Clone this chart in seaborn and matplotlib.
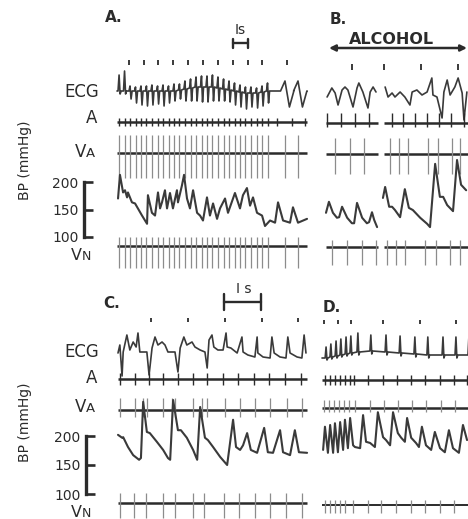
import numpy as np
import matplotlib
matplotlib.use("Agg")
import matplotlib.pyplot as plt
import seaborn as sns

sns.set_theme(style="white")
plt.rcParams["font.family"] = ["DejaVu Sans"]

W, H = 468, 519
INK = "#2b2b2b"
TRACE = "#3a3a3a"
SPIKE = "#8c8c8c"
ECG_PX_PER_MV = 10.0

# ------------------------------------------------------------------ data
# Panel A: timing marks (s), ventricular beats (s) and ECG amplitudes (mV)
A_MARKS = [0.81, 1.80, 2.79, 3.78, 4.80, 5.81, 6.82, 7.84, 8.85, 9.80, 11.49]
A_BEATS = [0.14, 0.51, 0.88, 1.25, 1.62, 1.99, 2.36, 2.74, 3.11, 3.48, 3.85, 4.22,
           4.59, 4.97, 5.34, 5.71, 6.08, 6.45, 6.82, 7.20, 7.57, 7.94, 8.31, 8.68,
           9.05, 9.43, 9.80, 10.17]
A_ECG_R = [1.6, 2.0, 0.5, 0.4, 0.5, 0.5, 0.6, 0.5, 0.6, 0.5, 0.7, 0.6, 0.8, 0.9,
           1.0, 1.1, 1.1, 1.2, 1.1, 1.0, 0.9, 0.8, 0.7, 0.6, 0.6, 0.5, 0.6, 0.8]
A_ECG_S = [0.3, 0.3, 0.8, 1.2, 1.4, 1.5, 1.4, 1.3, 1.5, 1.2, 1.0, 0.9, 1.2, 1.3,
           1.4, 1.5, 1.5, 1.4, 1.3, 1.2, 1.2, 1.4, 1.5, 1.6, 1.4, 1.5, 1.4, 1.2]
A_ECG_BASE = [0.0, 0.0, 0.0, 0.0, 0.0, 0.0, 0.0, 0.0, 0.0, 0.0, 0.0, 0.1, 0.2, 0.3,
              0.4, 0.4, 0.4, 0.4, 0.3, 0.2, 0.1, 0.0, -0.1, -0.2, -0.2, -0.2, -0.1, 0.0]
A_SLOW_BEATS = [11.35, 12.23]
A_SLOW_R = [1.0, 1.0]
A_SLOW_S = [1.6, 1.6]
A_ATRIAL = [0.14, 0.51, 0.88, 1.25, 1.62, 1.99, 2.36, 2.74, 3.11, 3.48, 3.85, 4.22,
            4.59, 4.97, 5.34, 5.71, 6.08, 6.45, 6.82, 7.20, 7.57, 7.94, 8.31, 8.68,
            9.05, 9.43, 9.80, 10.17, 10.81, 11.82, 12.70]
A_BP_T = [0.07, 0.20, 0.41, 0.54, 0.68, 0.74, 1.01, 1.22, 1.69, 2.03, 2.09, 2.36,
          2.57, 2.77, 2.91, 3.04, 3.24, 3.38, 3.58, 3.78, 4.05, 4.12, 4.39, 4.53,
          4.73, 4.93, 5.14, 5.41, 5.61, 5.81, 6.08, 6.28, 6.49, 6.76, 6.96, 7.30,
          7.50, 7.97, 8.31, 8.51, 8.78, 8.99, 9.19, 9.46, 9.80, 10.00, 10.34, 10.68,
          10.88, 11.22, 11.69, 11.89, 12.23, 12.84]
A_BP = [170, 213, 181, 185, 172, 181, 163, 161, 139, 124, 176, 144,
        139, 181, 152, 163, 185, 152, 180, 152, 185, 163, 194, 213,
        170, 152, 185, 144, 139, 130, 172, 139, 161, 133, 152, 170,
        144, 180, 152, 176, 189, 157, 172, 144, 139, 120, 130, 126,
        163, 130, 126, 154, 126, 133]

# Panel B (alcohol), two strips
B_MARKS = [0.71, 1.59, 2.60, 3.62]
B1_ECG_T = [0.03, 0.16, 0.25, 0.33, 0.44, 0.52, 0.60, 0.74, 0.85, 0.90, 1.01, 1.15,
            1.21, 1.29, 1.37]
B1_ECG = [-0.2, 0.7, 0.2, -1.0, 0.5, 0.8, 0.5, -1.2, 0.7, 1.2, 0.3, -1.3, 0.3, 0.8, 0.3]
B2_ECG_T = [1.62, 1.70, 1.81, 1.89, 2.03, 2.16, 2.30, 2.36, 2.49, 2.63, 2.77, 2.90,
            2.93, 3.04, 3.18, 3.23, 3.32, 3.40, 3.53, 3.62, 3.73, 3.78, 3.86]
B2_ECG = [0.8, -0.2, 0.2, -0.2, 0.3, -0.2, -1.0, 0.3, 0.5, 0.0, 0.3, 1.7,
          0.0, -0.2, -2.3, 0.3, 1.5, 0.0, 0.8, 1.7, 0.2, -2.5, 0.3]
B_ATRIAL = [0.03, 0.41, 0.79, 1.18, 1.81, 2.11, 2.44, 2.77, 3.10, 3.42, 3.78]
B_VA = [0.25, 0.66, 1.04, 1.75, 2.00, 2.25, 2.79, 3.07, 3.45, 3.67]
B_VN = [0.16, 0.58, 0.99, 1.37, 1.67, 1.92, 2.16, 2.71, 3.01, 3.40, 3.67]
B1_BP_T = [0.00, 0.08, 0.19, 0.30, 0.36, 0.44, 0.58, 0.71, 0.77, 0.85, 0.99, 1.12,
           1.18, 1.26, 1.32, 1.40]
B1_BP = [144, 164, 144, 135, 136, 155, 135, 125, 125, 162, 135, 125, 127, 145, 131, 118]
B2_BP_T = [1.56, 1.62, 1.73, 1.81, 1.89, 2.03, 2.16, 2.27, 2.38, 2.58, 2.77, 2.85,
           2.99, 3.12, 3.21, 3.32, 3.48, 3.59, 3.70, 3.84]
B2_BP = [171, 191, 155, 155, 149, 136, 187, 153, 149, 135, 124, 118,
         233, 173, 173, 158, 147, 240, 195, 185]

# Panel C
C_MARKS = [0.89, 1.89, 2.89, 3.89, 4.86]
C_ECG_T = [0.00, 0.05, 0.11, 0.14, 0.24, 0.32, 0.41, 0.49, 0.54, 0.59, 0.78, 0.84,
           0.92, 1.00, 1.08, 1.19, 1.27, 1.35, 1.54, 1.62, 1.68, 1.78, 1.86, 2.00,
           2.08, 2.22, 2.35, 2.41, 2.46, 2.54, 2.59, 2.70, 2.84, 2.92, 2.95, 3.05,
           3.22, 3.35, 3.38, 3.51, 3.70, 3.76, 3.78, 3.92, 4.11, 4.16, 4.22, 4.38,
           4.54, 4.59, 4.65, 4.84, 4.97, 5.03, 5.08]
C_ECG = [-0.1, 0.7, -2.4, 0.0, 1.7, 0.2, 1.0, 0.5, 1.9, 0.0, 0.0, -2.3,
         0.4, 1.5, 0.7, 1.0, 0.7, 0.0, 0.0, -2.0, 0.4, 1.5, 0.7, 1.0,
         0.5, 0.2, 0.0, -1.6, 1.2, 1.7, 0.5, 0.2, 0.2, 1.9, 0.5, 0.4,
         -0.1, 1.5, 0.0, -0.3, -0.5, 1.5, -0.1, -0.5, -0.6, 1.5, -0.1, -0.5,
         -0.6, 1.5, -0.1, -0.5, -0.6, 1.7, -0.1]
C_ATRIAL = [0.05, 0.46, 0.84, 1.22, 1.62, 2.03, 2.41, 2.84, 3.24, 3.68, 4.08, 4.51, 4.95]
C_VA = [0.05, 0.46, 0.68, 0.78, 1.22, 1.46, 1.54, 2.03, 2.27, 2.41, 2.89, 3.30,
        3.70, 4.11, 4.57, 4.97]
C_VN = [0.05, 0.43, 0.76, 1.22, 1.54, 2.03, 2.32, 2.86, 3.27, 3.70, 4.11, 4.54, 4.97]
C_BP_T = [0.00, 0.11, 0.14, 0.27, 0.41, 0.57, 0.62, 0.68, 0.78, 0.86, 1.05, 1.22,
          1.35, 1.41, 1.49, 1.62, 1.70, 1.86, 2.03, 2.14, 2.22, 2.35, 2.43, 2.57,
          2.76, 2.95, 3.11, 3.19, 3.30, 3.38, 3.49, 3.59, 3.76, 3.95, 4.05, 4.19,
          4.38, 4.46, 4.65, 4.78, 4.89, 5.11]
C_BP = [202, 197, 198, 181, 167, 159, 162, 259, 207, 205, 190, 176,
        162, 159, 262, 210, 210, 197, 176, 159, 250, 197, 193, 181,
        164, 150, 228, 181, 176, 184, 205, 176, 171, 214, 172, 171,
        210, 172, 167, 210, 172, 171]

# Panel D
D_MARKS = [0.05, 0.43, 0.78, 1.65, 2.65, 3.62]
D_BEATS = [0.11, 0.24, 0.38, 0.51, 0.65, 0.78, 0.97, 1.32, 1.73, 2.11, 2.51, 2.86,
           3.27, 3.62, 3.97]
D_ECG_R = [1.1, 1.3, 1.5, 1.6, 1.7, 1.7, 1.9, 1.6, 1.7, 1.7, 1.7, 1.8, 1.8, 1.8, 1.8]
D_ECG_S = [0.2, 0.2, 0.2, 0.2, 0.2, 0.2, 0.3, 0.3, 0.3, 0.3, 0.3, 0.3, 0.3, 0.3, 0.3]
D_ECG_BASE = [-0.5, -0.4, -0.3, -0.2, -0.1, 0.0, 0.1, 0.2, 0.1, 0.0, -0.1, -0.2,
              -0.2, -0.2, -0.2]
D_ATRIAL = [0.08, 0.22, 0.35, 0.49, 0.62, 0.76, 0.86, 1.24, 1.65, 2.03, 2.41, 2.78,
            3.19, 3.57, 3.92]
D_VA = [0.05, 0.19, 0.32, 0.46, 0.59, 0.73, 0.89, 1.30, 1.68, 2.05, 2.43, 2.81,
        3.22, 3.59]
D_VN = [0.08, 0.22, 0.35, 0.49, 0.62, 0.84, 1.24, 1.59, 2.00, 2.41, 2.78, 3.19, 3.57]
D_BP_T = [0.03, 0.08, 0.16, 0.22, 0.30, 0.35, 0.43, 0.49, 0.57, 0.62, 0.70, 0.76,
          0.84, 0.89, 1.03, 1.11, 1.19, 1.30, 1.43, 1.51, 1.65, 1.73, 1.84, 1.92,
          2.05, 2.14, 2.24, 2.30, 2.41, 2.54, 2.62, 2.70, 2.81, 2.95, 3.05, 3.19,
          3.32, 3.43, 3.54, 3.70, 3.81, 3.92]
D_BP = [176, 216, 171, 219, 171, 222, 172, 224, 176, 228, 179, 231,
        184, 181, 179, 236, 190, 188, 181, 241, 198, 193, 184, 241,
        205, 197, 190, 231, 197, 188, 181, 216, 184, 176, 207, 179,
        172, 210, 179, 171, 219, 193]

BP_TICKS = [100, 150, 200]

# ------------------------------------------------------------------ layout
fig = plt.figure(figsize=(W / 100, H / 100), dpi=100)
fig.patch.set_facecolor("white")


class Panel:
    """One recording strip: x in seconds, y in mmHg-equivalent units."""

    def __init__(self, left, right, top, bottom, t0_px, px_per_s, bp100_px, px_per_mmhg):
        self.t0, self.pps, self.ref, self.ppm = t0_px, px_per_s, bp100_px, px_per_mmhg
        self.ax = fig.add_axes([left / W, 1 - bottom / H, (right - left) / W, (bottom - top) / H])
        self.ax.set_xlim(self.t(left), self.t(right))
        self.ax.set_ylim(self.y(bottom), self.y(top))
        self.ax.patch.set_alpha(0)
        for sp in self.ax.spines.values():
            sp.set_visible(False)
        self.ax.set_xticks([])
        self.ax.set_yticks([])
        self.ax.grid(False)

    def t(self, px):
        return (px - self.t0) / self.pps

    def y(self, px):
        return 100 + (self.ref - px) / self.ppm

    def h(self, px):
        return px / self.ppm


def trace(p, t, v, lw=1.5, color=TRACE):
    sns.lineplot(x=np.asarray(t, float), y=np.asarray(v, float), ax=p.ax, color=color,
                 linewidth=lw, estimator=None, sort=False, legend=False)


def ecg(p, row_px, t, mv, lw=1.2):
    v = p.y(row_px) + p.h(np.asarray(mv, float) * ECG_PX_PER_MV)
    trace(p, t, v, lw=lw)


def ecg_beats(t, r, s, base, w):
    xs, ys = [], []
    for ti, ri, si, bi in zip(t, r, s, base):
        xs += [ti - w, ti, ti + w, ti + 2 * w]
        ys += [bi, bi + ri, bi - si, bi]
    return xs, ys


def spikes(p, times, row_px, up_px, down_px, color=SPIKE, lw=0.9):
    p.ax.vlines(times, p.y(row_px) - p.h(down_px), p.y(row_px) + p.h(up_px),
                colors=color, linewidth=lw)


def baseline(p, t0, t1, row_px, lw=1.8):
    p.ax.hlines(p.y(row_px), t0, t1, colors=INK, linewidth=lw)


def marks(p, times, row_px, half_px=2.5):
    p.ax.vlines(times, p.y(row_px) - p.h(half_px), p.y(row_px) + p.h(half_px),
                colors=INK, linewidth=1.3)


def bp_scale(p):
    ax = p.ax
    ax.spines["left"].set_visible(True)
    ax.spines["left"].set_bounds(100, 200)
    ax.spines["left"].set_linewidth(2.4)
    ax.spines["left"].set_color(INK)
    ax.set_yticks(BP_TICKS)
    ax.set_yticklabels([str(v) for v in BP_TICKS])
    ax.tick_params(axis="y", left=True, direction="in", length=6.5, width=1.9,
                   colors=INK, labelsize=10, pad=4)


def scale_bar(p, t_start, y_px, cap_px):
    ax = p.ax
    yb = p.y(y_px)
    ax.plot([t_start, t_start + 1.0], [yb, yb], color=INK, lw=1.7, clip_on=False)
    for tt in (t_start, t_start + 1.0):
        ax.plot([tt, tt], [yb - p.h(cap_px), yb + p.h(cap_px)], color=INK, lw=1.7,
                clip_on=False)


def ftext(x, y, s, **kw):
    kw.setdefault("color", INK)
    fig.text(x / W, 1 - y / H, s, **kw)


# ------------------------------------------------------------------ panel A
pA = Panel(84, 312, 20, 280, 117, 14.8, 237, 0.55)
marks(pA, A_MARKS, 62)
xs, ys = ecg_beats(A_BEATS, A_ECG_R, A_ECG_S, A_ECG_BASE, 0.07)
xs2, ys2 = ecg_beats(A_SLOW_BEATS, A_SLOW_R, A_SLOW_S, [0.0, 0.0], 0.3)
ecg(pA, 91, [0.0] + xs + xs2 + [12.85], [0.0] + ys + ys2 + [0.0])
baseline(pA, 0.0, 12.85, 122)
spikes(pA, A_ATRIAL, 122, 4, 4, color=INK, lw=1.0)
baseline(pA, 0.0, 12.85, 153)
spikes(pA, A_BEATS + A_SLOW_BEATS, 153, 18, 25)
trace(pA, A_BP_T, A_BP)
baseline(pA, 0.0, 12.85, 246)
spikes(pA, A_BEATS + A_SLOW_BEATS, 246, 9, 22)
bp_scale(pA)
scale_bar(pA, pA.t(233), 43, 4.5)

# ------------------------------------------------------------------ panel B
pB = Panel(322, 468, 20, 280, 326, 36.5, 237, 0.55)
marks(pB, B_MARKS, 67, 3)
ecg(pB, 95, B1_ECG_T, B1_ECG)
ecg(pB, 95, B2_ECG_T, B2_ECG)
for t0, t1 in ((0.0, 1.42), (1.59, 3.95)):
    baseline(pB, t0, t1, 123)
    baseline(pB, t0, t1, 154)
    baseline(pB, t0, t1, 247)
spikes(pB, B_ATRIAL, 123, 10, 4, color=INK, lw=1.0)
spikes(pB, B_VA, 154, 16, 20)
trace(pB, B1_BP_T, B1_BP)
trace(pB, B2_BP_T, B2_BP)
spikes(pB, B_VN, 247, 7, 18)
pB.ax.annotate("", xy=(pB.t(467), pB.y(48)), xytext=(pB.t(329), pB.y(48)),
               arrowprops=dict(arrowstyle="<|-|>", color=INK, lw=1.8, mutation_scale=9,
                               shrinkA=0, shrinkB=0),
               annotation_clip=False)

# ------------------------------------------------------------------ panel C
pC = Panel(86, 312, 280, 519, 118, 37.0, 494, 0.58)
marks(pC, C_MARKS, 320, 2)
ecg(pC, 352, C_ECG_T, C_ECG)
baseline(pC, 0.0, 5.11, 379)
spikes(pC, C_ATRIAL, 379, 6, 6, color=INK, lw=1.0)
baseline(pC, 0.0, 5.11, 410)
spikes(pC, C_VA, 410, 12, 7)
trace(pC, C_BP_T, C_BP)
baseline(pC, 0.0, 5.11, 503)
spikes(pC, C_VN, 503, 10, 15)
bp_scale(pC)
scale_bar(pC, pC.t(224), 302, 8)

# ------------------------------------------------------------------ panel D
pD = Panel(318, 468, 280, 519, 322, 37.0, 494, 0.58)
marks(pD, D_MARKS, 322, 2)
xs, ys = ecg_beats(D_BEATS, D_ECG_R, D_ECG_S, D_ECG_BASE, 0.025)
ecg(pD, 353, [0.0] + xs, [-0.5] + ys)
baseline(pD, 0.0, 3.95, 380)
spikes(pD, D_ATRIAL, 380, 5, 5, color=INK, lw=1.0)
baseline(pD, 0.0, 3.95, 408)
spikes(pD, D_VA, 408, 8, 4)
trace(pD, D_BP_T, D_BP)
baseline(pD, 0.0, 3.95, 505, lw=1.4)
spikes(pD, D_VN, 505, 5, 8)

# ------------------------------------------------------------------ labels
title_kw = dict(fontsize=11, fontweight="bold", ha="left", va="center")
ftext(105, 18, "A.", **title_kw)
ftext(330, 20, "B.", **title_kw)
ftext(103, 303, "C.", **title_kw)
ftext(323, 307, "D.", **title_kw)
ftext(391, 39, "ALCOHOL", fontsize=11.5, fontweight="semibold", ha="center", va="center")
ftext(240, 30, "Is", fontsize=10, ha="center", va="center")
ftext(244, 289, "I s", fontsize=10, ha="center", va="center")

row_kw = dict(fontsize=12, ha="right", va="baseline")
for ecg_y, a_y, va_y, vn_y, bp_y in ((97, 123, 157, 260, 160), (357, 383, 412, 517, 422)):
    ftext(99, ecg_y, "ECG", **row_kw)
    ftext(97, a_y, "A", **row_kw)
    ftext(86, va_y, "V", **row_kw)
    ftext(86, va_y, "A", fontsize=9.5, ha="left", va="baseline")
    ftext(82, vn_y, "V", fontsize=11.5, ha="right", va="baseline")
    ftext(82, vn_y, "N", fontsize=9, ha="left", va="baseline")
    ftext(25, bp_y, "BP (mmHg)", fontsize=10, rotation=90, ha="center", va="center")

fig.savefig("out.png", dpi=100, facecolor="white")
